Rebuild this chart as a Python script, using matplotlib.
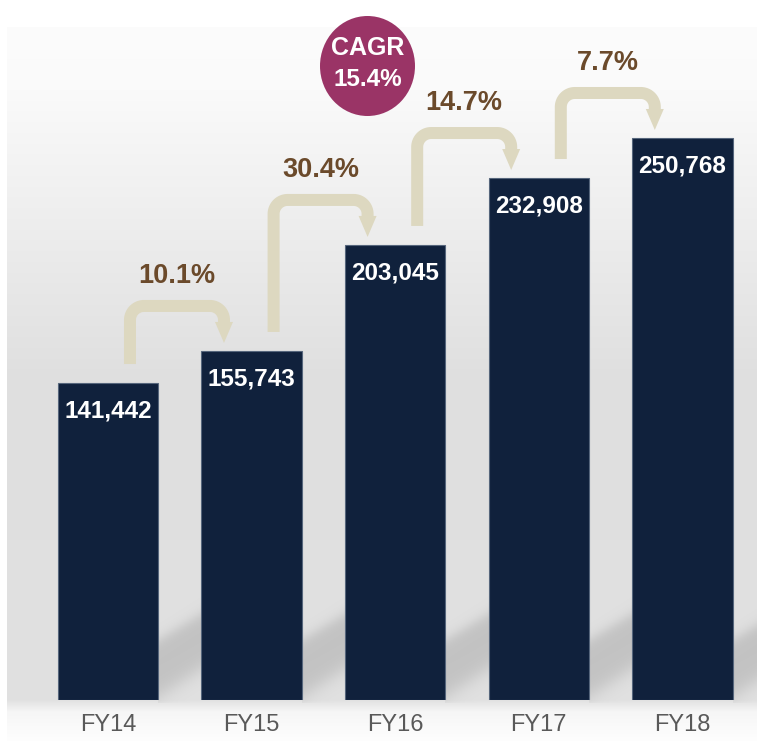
import numpy as np
import matplotlib
matplotlib.use("Agg")
import matplotlib.pyplot as plt
from matplotlib.patches import Ellipse, Polygon

plt.rcParams['font.family'] = ['Liberation Sans', 'DejaVu Sans']

# data
years = ['FY14', 'FY15', 'FY16', 'FY17', 'FY18']
revenue = [141442, 155743, 203045, 232908, 250768]
growth = [10.1, 30.4, 14.7, 7.7]   # year on year, %
cagr = 15.4

# colours
bar_col = '#10213c'
bar_edge = '#56667c'
arrow_col = '#ddd8c0'
pct_col = '#6b4a2b'
cagr_col = '#9a3466'
tick_col = '#595959'

W, H = 771, 741
base_px = 41      # gap between the bars' baseline and the bottom of the picture
bar_w = 0.70

fig = plt.figure(figsize=(W / 100, H / 100), dpi=100)

# main axes for the bars
ax = fig.add_axes([0, base_px / H, 1, (H - base_px) / H], zorder=2)
ax.set_xlim(-0.752, 4.617)
ax.set_ylim(0, 312340)
ax.patch.set_visible(False)
for s in ax.spines.values():
    s.set_visible(False)

# size of one pixel in data units
ux = (4.617 + 0.752) / W
uy = 312340 / (H - base_px)

x = np.arange(len(years))
ax.bar(x, revenue, width=bar_w, color=bar_col, edgecolor=bar_edge, linewidth=0.8, zorder=3)

for i, v in enumerate(revenue):
    ax.annotate(f'{v:,}', (i, v), xytext=(0, -28 * 0.72), textcoords='offset points',
                ha='center', va='center', color='white', fontsize=17.5, fontweight='bold', zorder=4)

ax.set_xticks(x, years)
ax.set_yticks([])
ax.tick_params(axis='x', length=0, pad=10, labelsize=17, labelcolor=tick_col)

# growth arrows between neighbouring bars
r = 14  # corner radius, px
for i, g in enumerate(growth):
    v0, v1 = revenue[i], revenue[i + 1]
    x0 = i + 22 * ux
    x1 = x0 + 94 * ux
    y0 = v0 + 19 * uy
    yh = v1 + 45 * uy
    ytip = v1 + 8 * uy
    yhb = ytip + 20 * uy

    t1 = np.linspace(np.pi, np.pi / 2, 20)
    t2 = np.linspace(np.pi / 2, 0, 20)
    px = np.concatenate([[x0], x0 + r * ux + r * ux * np.cos(t1),
                         x1 - r * ux + r * ux * np.cos(t2), [x1]])
    py = np.concatenate([[y0], yh - r * uy + r * uy * np.sin(t1),
                         yh - r * uy + r * uy * np.sin(t2), [yhb]])
    ax.plot(px, py, color=arrow_col, lw=12 * 0.72, solid_capstyle='butt',
            solid_joinstyle='round', zorder=2)
    ax.add_patch(Polygon([(x1 - 9 * ux, yhb + 1 * uy), (x1 + 9 * ux, yhb + 1 * uy), (x1, ytip)],
                         closed=True, color=arrow_col, lw=0, zorder=2))
    ax.text(x0 + 47 * ux, yh + 30 * uy, f'{g}%', ha='center', va='center',
            color=pct_col, fontsize=19.5, fontweight='bold', zorder=4)

# background: soft grey panel with slanted shadows behind the bars
bg = fig.add_axes([0, 0, 1, 1], zorder=0)
bg.set_xlim(0, W)
bg.set_ylim(H, 0)
bg.axis('off')

yy, xx = np.mgrid[0:H, 0:W] + 0.5
grey = np.interp(yy, [27, 90, 380, 700, 712, 741], [252, 250, 223, 225, 246, 254])
inside = (xx >= 7) & (xx <= 757) & (yy >= 27)
img = np.where(inside, grey, 255.0)


def sig(z):
    return 1 / (1 + np.exp(-z))


lefts = [ax.transData.transform((i - bar_w / 2, 0))[0] for i in x]
rights = [ax.transData.transform((i + bar_w / 2, 0))[0] for i in x]
for k in range(len(years)):
    xr = rights[k]
    xl = lefts[k + 1] if k + 1 < len(years) else 757
    y_top = 640 - 0.6 * (xx - xr)
    y_bot = 697 - 0.65 * (xx - xr)
    shade = sig((yy - y_top) / 4) * sig((y_bot - yy) / 6)
    m = (xx >= xr) & (xx < xl) & inside & (yy < 703)
    img = img - 30 * shade * m

bg.imshow(np.dstack([img] * 3) / 255, extent=(0, W, H, 0), interpolation='bilinear', aspect='auto')

# CAGR badge
bg.add_patch(Ellipse((367.5, 66), 95, 100, color=cagr_col, lw=0))
bg.text(368, 48, 'CAGR', ha='center', va='center', color='white', fontsize=18, fontweight='bold')
bg.text(368, 80, f'{cagr}%', ha='center', va='center', color='white', fontsize=17.5, fontweight='bold')

fig.savefig('out.png', dpi=100)
